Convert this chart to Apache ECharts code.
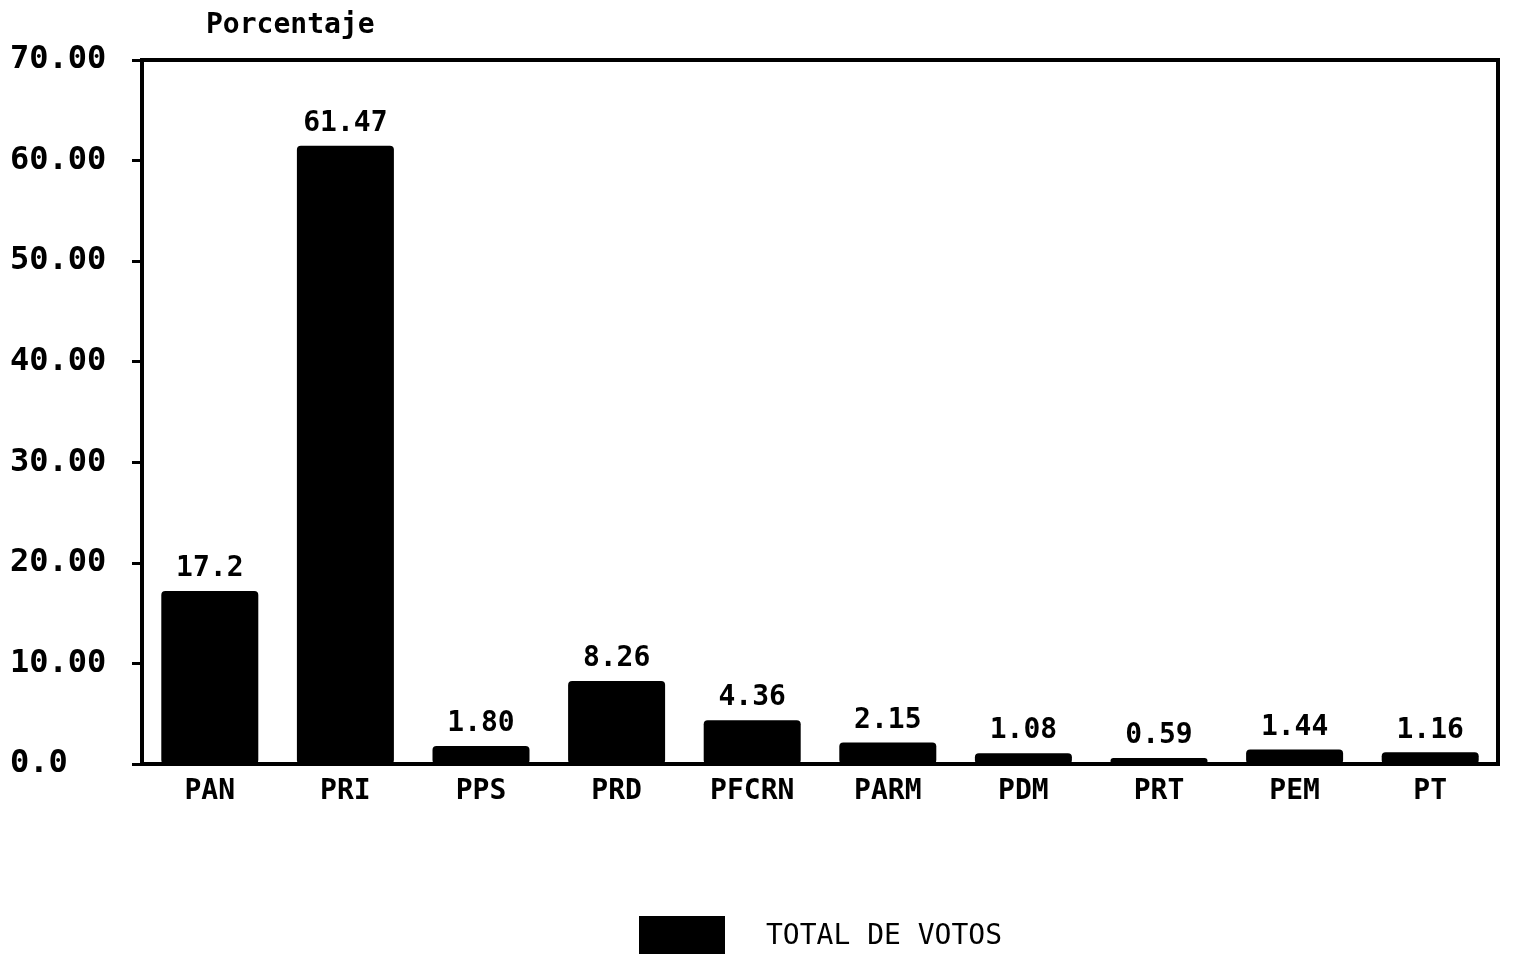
<!DOCTYPE html>
<html>
<head>
<meta charset="utf-8">
<script src="https://cdn.jsdelivr.net/npm/echarts@6/dist/echarts.min.js"></script>
<style>
  html, body { margin: 0; padding: 0; background: #fff; }
  #chart { width: 1518px; height: 954px; }
</style>
</head>
<body>
<div id="chart"></div>
<script>
  // partidos y porcentaje de votos
  var partidos = ['PAN', 'PRI', 'PPS', 'PRD', 'PFCRN', 'PARM', 'PDM', 'PRT', 'PEM', 'PT'];
  var porcentajes = [17.2, 61.47, 1.80, 8.26, 4.36, 2.15, 1.08, 0.59, 1.44, 1.16];
  var etiquetas = ['17.2', '61.47', '1.80', '8.26', '4.36', '2.15', '1.08', '0.59', '1.44', '1.16'];
  var yTicks = ['0.0', '10.00', '20.00', '30.00', '40.00', '50.00', '60.00', '70.00'];

  var fuente = 'DejaVu Sans Mono';
  var chart = echarts.init(document.getElementById('chart'));
  chart.setOption({
    animation: false,
    backgroundColor: '#fff',
    grid: {
      left: 142,
      right: 20,
      top: 60,
      bottom: 190,
      show: true,
      borderColor: '#000',
      borderWidth: 4
    },
    legend: {
      left: 634,
      top: 911,
      itemWidth: 86,
      itemHeight: 41,
      icon: 'rect',
      data: ['TOTAL DE VOTOS'],
      textStyle: {
        color: '#000',
        fontFamily: fuente,
        fontSize: 28,
        padding: [0, 0, 0, 36]
      }
    },
    xAxis: {
      type: 'category',
      data: partidos,
      axisLine: { lineStyle: { color: '#000', width: 4 } },
      axisTick: { show: false },
      axisLabel: {
        color: '#000',
        fontFamily: fuente,
        fontWeight: 'bold',
        fontSize: 28,
        margin: 14
      }
    },
    yAxis: {
      type: 'value',
      min: 0,
      max: 70,
      interval: 10,
      name: 'Porcentaje',
      nameGap: 20,
      nameTextStyle: {
        color: '#000',
        fontFamily: fuente,
        fontWeight: 'bold',
        fontSize: 28,
        align: 'left',
        padding: [0, 0, 0, 64]
      },
      splitLine: { show: false },
      axisLine: { show: true, lineStyle: { color: '#000', width: 4 } },
      axisTick: { show: true, inside: false, length: 10, lineStyle: { color: '#000', width: 3 } },
      axisLabel: {
        color: '#000',
        fontFamily: fuente,
        fontWeight: 'bold',
        fontSize: 32,
        margin: 132,
        align: 'left',
        formatter: function (v) { return yTicks[Math.round(v / 10)]; }
      }
    },
    series: [{
      name: 'TOTAL DE VOTOS',
      type: 'bar',
      data: porcentajes,
      barWidth: 97,
      itemStyle: { color: '#000', borderRadius: 4 },
      label: {
        show: true,
        position: 'top',
        distance: 8,
        color: '#000',
        fontFamily: fuente,
        fontWeight: 'bold',
        fontSize: 28,
        formatter: function (p) { return etiquetas[p.dataIndex]; }
      }
    }]
  });
</script>
</body>
</html>
